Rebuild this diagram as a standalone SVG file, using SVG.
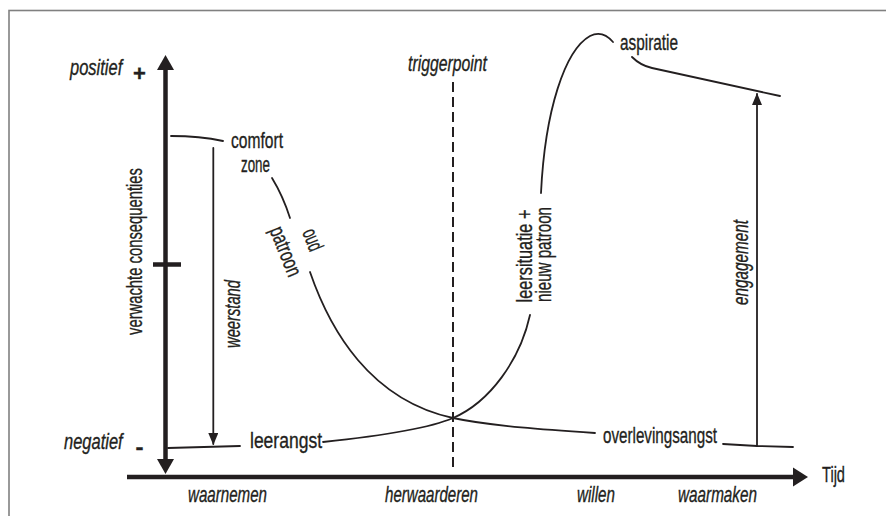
<svg xmlns="http://www.w3.org/2000/svg" width="886" height="516" viewBox="0 0 886 516">
<style>
.t{font-family:"Liberation Sans",Arial,sans-serif;font-size:22px;fill:#231f20;stroke:#231f20;stroke-width:0.35}
.i{font-style:italic}
.b{font-weight:bold}
.ln{fill:none;stroke:#231f20;stroke-width:1.8;stroke-linecap:round}
.ax{fill:none;stroke:#231f20;stroke-width:4.5}
.hd{fill:#231f20}
</style>
<defs>
<marker id="arr" viewBox="0 0 12 10" markerWidth="12" markerHeight="10" refX="11" refY="5" orient="auto" markerUnits="userSpaceOnUse">
<path d="M0,0 L12,5 L0,10 z" fill="#231f20"/>
</marker>
</defs>
<rect width="886" height="516" fill="#fff"/>
<rect x="9" y="10.5" width="900" height="600" fill="none" stroke="#808080" stroke-width="1.6"/>

<g id="axes">
<line class="ax" x1="165.5" y1="66" x2="165.5" y2="462"/>
<polygon class="hd" points="165.5,55 174,70 157,70"/>
<polygon class="hd" points="165.5,474 174,459 157,459"/>
<line class="ax" x1="153" y1="264.5" x2="181" y2="264.5" stroke-width="5"/>
<line class="ax" x1="127" y1="477" x2="796" y2="477"/>
<polygon class="hd" points="808,477 793,467.5 793,486.5"/>
<line x1="453" y1="82" x2="453" y2="469" stroke="#231f20" stroke-width="2" stroke-dasharray="10 5"/>
</g>

<g id="connectors">
<path class="ln" d="M171,136 Q200,136 223,141"/>
<path class="ln" d="M272,178 Q283,196 290,218"/>
<path class="ln" d="M310,272 C330,330 370,400 453,418 C490,426 550,430 595,433"/>
<path class="ln" d="M168,448 Q205,447 240,446"/>
<path class="ln" d="M323,442 C380,436 430,428 453,418 C490,402 520,360 530,315"/>
<path class="ln" d="M541,193 C545,110 565,50 590,36 C600,31 607,35 613,42"/>
<path class="ln" d="M632,57 C638,63 643,66 652,68 L780,96"/>
<path class="ln" d="M723,444 L757,446 L793,447"/>
<line class="ln" x1="213.3" y1="148" x2="213.3" y2="444" marker-end="url(#arr)"/>
<line class="ln" x1="757" y1="446" x2="757" y2="94" marker-end="url(#arr)"/>
</g>

<g id="label-positief"><text class="t i" transform="translate(70,75) scale(0.75,1)" font-size="21">positief</text>
<text class="t b" x="139.5" y="81" font-size="36" text-anchor="middle">+</text></g>
<g id="label-negatief"><text class="t i" transform="translate(64,449) scale(0.75,1)" font-size="21">negatief</text>
<text class="t b" x="139.5" y="454" font-size="30" text-anchor="middle" textLength="8" lengthAdjust="spacingAndGlyphs">-</text></g>
<g id="label-yaxis"><text class="t" transform="translate(142,251.5) rotate(-90)" font-size="21" text-anchor="middle" textLength="167" lengthAdjust="spacingAndGlyphs">verwachte consequenties</text></g>
<g id="node-comfort"><text class="t" x="231" y="148" textLength="52" lengthAdjust="spacingAndGlyphs">comfort</text>
<text class="t" x="241" y="172" textLength="29" lengthAdjust="spacingAndGlyphs">zone</text></g>
<g id="label-weerstand"><text class="t i" transform="translate(240,314) rotate(-90)" text-anchor="middle" textLength="68" lengthAdjust="spacingAndGlyphs">weerstand</text></g>
<g id="node-oudpatroon"><text class="t" transform="translate(306,242.5) rotate(68)" text-anchor="middle" textLength="22" lengthAdjust="spacingAndGlyphs">oud</text>
<text class="t" transform="translate(279,254) rotate(68)" text-anchor="middle" textLength="52" lengthAdjust="spacingAndGlyphs">patroon</text></g>
<g id="node-leerangst"><text class="t" x="250" y="448" textLength="72" lengthAdjust="spacingAndGlyphs">leerangst</text></g>
<g id="node-triggerpoint"><text class="t i" x="408" y="71" font-size="20" stroke-width="0.7" textLength="79" lengthAdjust="spacingAndGlyphs">triggerpoint</text></g>
<g id="node-leersituatie"><text class="t" transform="translate(532,256) rotate(-90)" text-anchor="middle" textLength="93" lengthAdjust="spacingAndGlyphs">leersituatie +</text>
<text class="t" transform="translate(551,254.5) rotate(-90)" text-anchor="middle" textLength="95" lengthAdjust="spacingAndGlyphs">nieuw patroon</text></g>
<g id="node-aspiratie"><text class="t" x="620" y="50" textLength="58" lengthAdjust="spacingAndGlyphs">aspiratie</text></g>
<g id="label-engagement"><text class="t i" transform="translate(748,262.5) rotate(-90)" text-anchor="middle" textLength="85" lengthAdjust="spacingAndGlyphs">engagement</text></g>
<g id="node-overlevingsangst"><text class="t" x="603" y="443" textLength="114" lengthAdjust="spacingAndGlyphs">overlevingsangst</text></g>
<g id="label-tijd"><text class="t" x="822" y="482" font-size="22" textLength="23" lengthAdjust="spacingAndGlyphs">Tijd</text></g>
<g id="label-phases">
<text class="t i" x="188" y="502" textLength="79" lengthAdjust="spacingAndGlyphs">waarnemen</text>
<text class="t i" x="385" y="502" textLength="93" lengthAdjust="spacingAndGlyphs">herwaarderen</text>
<text class="t i" x="577" y="502" textLength="38" lengthAdjust="spacingAndGlyphs">willen</text>
<text class="t i" x="678" y="502" textLength="79" lengthAdjust="spacingAndGlyphs">waarmaken</text>
</g>
</svg>
